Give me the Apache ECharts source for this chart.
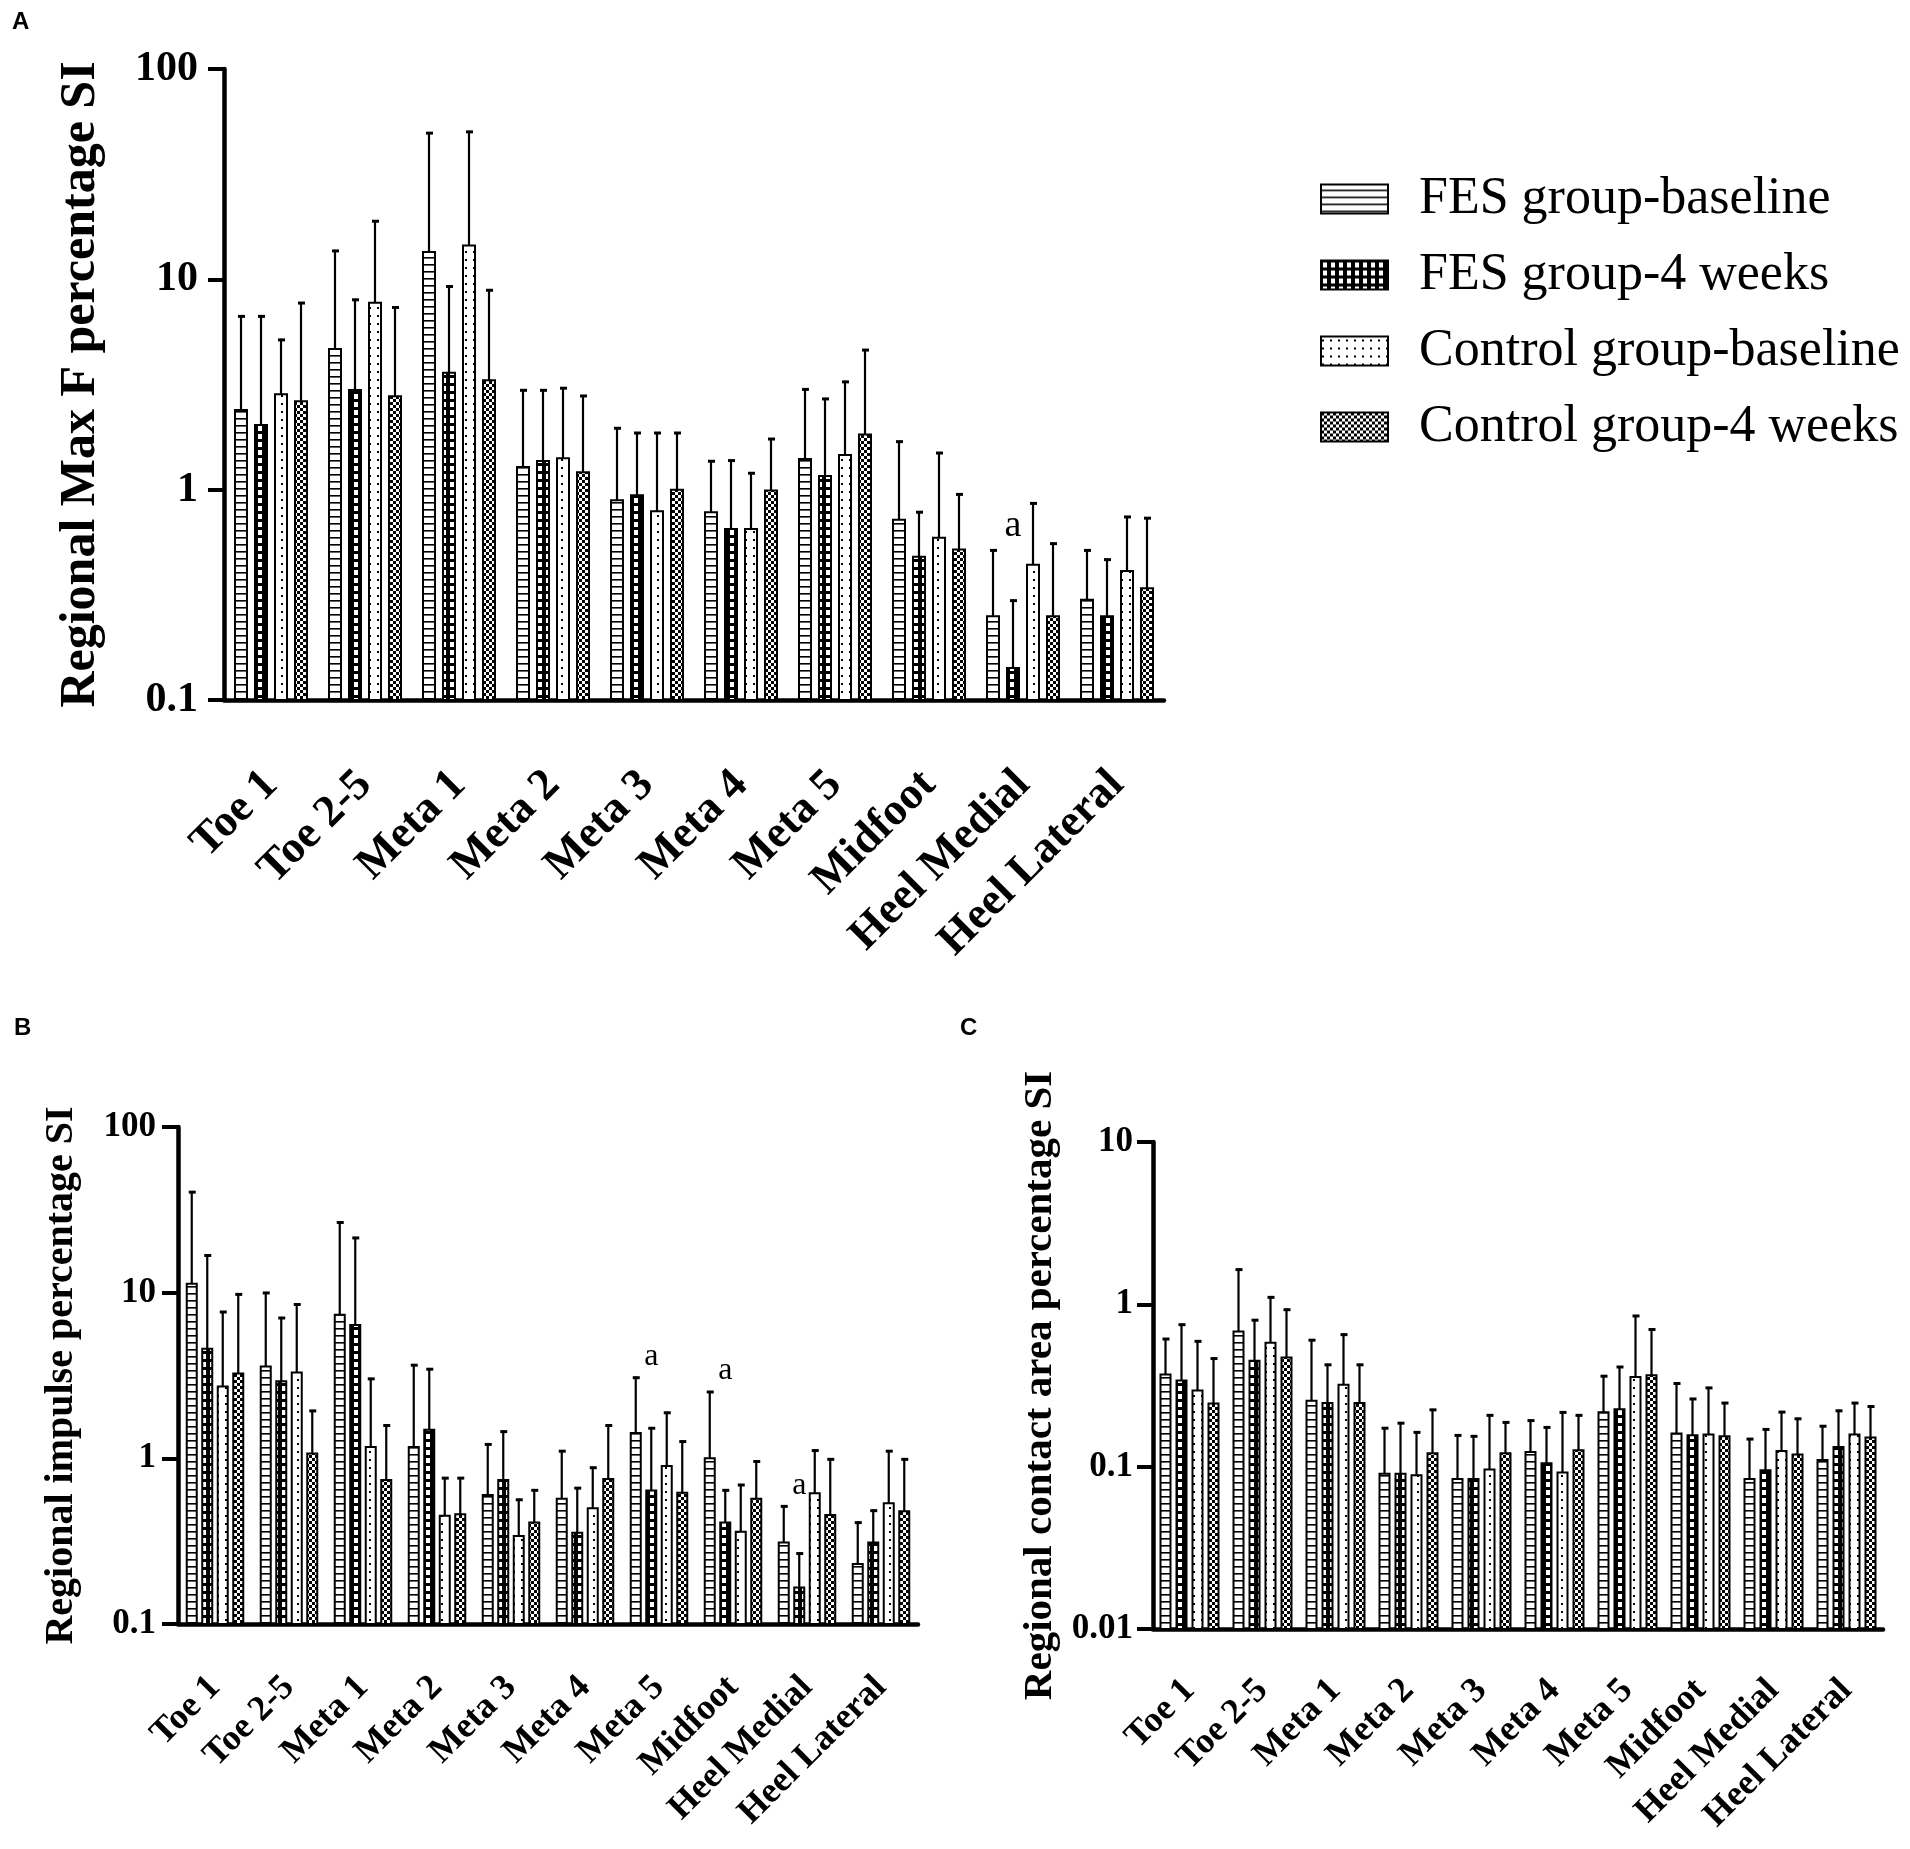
<!DOCTYPE html>
<html>
<head>
<meta charset="utf-8">
<script src="https://cdn.jsdelivr.net/npm/echarts@6/dist/echarts.min.js"></script>
<style>
html, body { margin: 0; padding: 0; background: #fff; }
#chart { width: 1910px; height: 1849px; }
</style>
</head>
<body>
<div id="chart"></div>
<script>
var regions = ['Toe 1', 'Toe 2-5', 'Meta 1', 'Meta 2', 'Meta 3', 'Meta 4', 'Meta 5', 'Midfoot', 'Heel Medial', 'Heel Lateral'];
var groups = ['FES group-baseline', 'FES group-4 weeks', 'Control group-baseline', 'Control group-4 weeks'];

// A - Regional Max F percentage SI (bar value, top of error bar)
var maxF_fesBase = [2.39, 4.66, 13.5, 1.28, 0.89, 0.78, 1.40, 0.72, 0.25, 0.30];
var maxF_fesBaseTop = [6.74, 13.8, 50.1, 3.0, 1.98, 1.38, 3.03, 1.71, 0.52, 0.52];
var maxF_fes4 = [2.03, 2.98, 3.6, 1.37, 0.94, 0.65, 1.16, 0.48, 0.142, 0.25];
var maxF_fes4Top = [6.74, 8.08, 9.35, 3.0, 1.88, 1.39, 2.73, 0.79, 0.30, 0.47];
var maxF_ctlBase = [2.84, 7.74, 14.5, 1.41, 0.79, 0.65, 1.46, 0.59, 0.44, 0.41];
var maxF_ctlBaseTop = [5.21, 19.1, 50.8, 3.07, 1.88, 1.21, 3.29, 1.51, 0.87, 0.75];
var maxF_ctl4 = [2.63, 2.78, 3.31, 1.21, 1.0, 0.99, 1.83, 0.52, 0.25, 0.34];
var maxF_ctl4Top = [7.8, 7.43, 8.97, 2.82, 1.88, 1.76, 4.66, 0.96, 0.56, 0.74];
var maxF_sig = [8];

// B - Regional impulse percentage SI
var imp_fesBase = [11.3, 3.58, 7.35, 1.17, 0.60, 0.57, 1.42, 1.0, 0.31, 0.23];
var imp_fesBaseTop = [41, 10.1, 26.9, 3.7, 1.23, 1.12, 3.11, 2.55, 0.52, 0.415];
var imp_fes4 = [4.58, 2.92, 6.38, 1.49, 0.74, 0.355, 0.64, 0.41, 0.166, 0.31];
var imp_fes4Top = [17, 7.13, 21.7, 3.5, 1.47, 0.67, 1.54, 0.65, 0.27, 0.49];
var imp_ctlBase = [2.71, 3.3, 1.17, 0.45, 0.34, 0.50, 0.90, 0.36, 0.615, 0.535];
var imp_ctlBaseTop = [7.75, 8.6, 3.06, 0.77, 0.57, 0.89, 1.91, 0.70, 1.13, 1.12];
var imp_ctl4 = [3.25, 1.07, 0.74, 0.46, 0.41, 0.75, 0.62, 0.57, 0.455, 0.48];
var imp_ctl4Top = [9.9, 1.96, 1.6, 0.77, 0.65, 1.6, 1.28, 0.97, 1.0, 1.0];
var imp_sig = [6, 7, 8];

// C - Regional contact area percentage SI
var area_fesBase = [0.37, 0.68, 0.255, 0.0905, 0.084, 0.123, 0.216, 0.16, 0.084, 0.11];
var area_fesBaseTop = [0.62, 1.66, 0.61, 0.175, 0.158, 0.195, 0.366, 0.33, 0.15, 0.18];
var area_fes4 = [0.34, 0.45, 0.247, 0.0905, 0.084, 0.105, 0.226, 0.156, 0.095, 0.132];
var area_fes4Top = [0.76, 0.81, 0.43, 0.188, 0.156, 0.177, 0.417, 0.265, 0.172, 0.224];
var area_ctlBase = [0.295, 0.58, 0.32, 0.0885, 0.096, 0.092, 0.357, 0.158, 0.125, 0.158];
var area_ctlBaseTop = [0.60, 1.12, 0.66, 0.165, 0.21, 0.219, 0.86, 0.31, 0.22, 0.25];
var area_ctl4 = [0.245, 0.47, 0.247, 0.121, 0.121, 0.126, 0.366, 0.154, 0.119, 0.151];
var area_ctl4Top = [0.47, 0.94, 0.43, 0.227, 0.19, 0.21, 0.71, 0.25, 0.20, 0.238];
var area_sig = [];

var SERIF = 'Liberation Serif';

// fill patterns, one per group
function pat(draw, w, h) {
    var c = document.createElement('canvas');
    c.width = w; c.height = h;
    var g = c.getContext('2d');
    g.fillStyle = '#fff';
    g.fillRect(0, 0, w, h);
    g.fillStyle = '#000';
    draw(g);
    return { image: c, repeat: 'repeat' };
}
var patterns = [
    pat(function (g) { g.fillRect(0, 5, 16, 1.6); }, 16, 7),
    pat(function (g) { g.fillRect(0, 0, 8, 8); g.fillStyle = '#fff'; g.fillRect(2, 2, 4, 5); }, 8, 8),
    pat(function (g) { g.fillRect(1, 3, 2, 2); }, 8, 8),
    pat(function (g) { g.fillRect(0, 0, 3, 3); g.fillRect(3, 3, 3, 3); }, 6, 6)
];

var panels = [
    { name: 'Regional Max F percentage SI', min: 0.1, max: 100, bw: 12, pitch: 20,
      vals: [maxF_fesBase, maxF_fes4, maxF_ctlBase, maxF_ctl4],
      tops: [maxF_fesBaseTop, maxF_fes4Top, maxF_ctlBaseTop, maxF_ctl4Top], sig: maxF_sig,
      grid: { left: 224, top: 69, width: 940, height: 631 },
      tickFont: 42, nameFont: 50, catFont: 45, catMargin: 78, nameGap: 118, labelMargin: 26, sigFont: 38 },
    { name: 'Regional impulse percentage SI', min: 0.1, max: 100, bw: 10, pitch: 15.5,
      vals: [imp_fesBase, imp_fes4, imp_ctlBase, imp_ctl4],
      tops: [imp_fesBaseTop, imp_fes4Top, imp_ctlBaseTop, imp_ctl4Top], sig: imp_sig,
      grid: { left: 178, top: 1127, width: 740, height: 497 },
      tickFont: 35, nameFont: 40, catFont: 36, catMargin: 58, nameGap: 96, labelMargin: 22, sigFont: 32 },
    { name: 'Regional contact area percentage SI', min: 0.01, max: 10, bw: 10, pitch: 16,
      vals: [area_fesBase, area_fes4, area_ctlBase, area_ctl4],
      tops: [area_fesBaseTop, area_fes4Top, area_ctlBaseTop, area_ctl4Top], sig: area_sig,
      grid: { left: 1153, top: 1142, width: 730, height: 487 },
      tickFont: 35, nameFont: 41, catFont: 36, catMargin: 56, nameGap: 92, labelMargin: 20, sigFont: 32 }
];

function barItem(p, s) {
    return function (params, api) {
        var i = api.value(0);
        var top = api.coord([i, api.value(1)]);
        var base = api.coord([i, p.min]);
        var x = top[0] + (s - 1.5) * p.pitch;
        return {
            type: 'rect',
            shape: { x: x - p.bw / 2, y: top[1], width: p.bw, height: base[1] - top[1] },
            style: { fill: patterns[s], stroke: '#000', lineWidth: 2 }
        };
    };
}

function errItem(p, s) {
    return function (params, api) {
        var i = api.value(0);
        var a = api.coord([i, api.value(1)]);
        var b = api.coord([i, api.value(2)]);
        var x = a[0] + (s - 1.5) * p.pitch;
        var st = { stroke: '#000', lineWidth: 2.2 };
        return {
            type: 'group',
            children: [
                { type: 'line', shape: { x1: x, y1: a[1], x2: x, y2: b[1] }, style: st },
                { type: 'line', shape: { x1: x - 3, y1: b[1] + 1, x2: x + 4, y2: b[1] + 1 }, style: { stroke: '#000', lineWidth: 3 } }
            ]
        };
    };
}

function sigItem(p) {
    return function (params, api) {
        var i = api.value(0);
        var c = api.coord([i, api.value(1)]);
        return {
            type: 'text',
            x: c[0] - 0.5 * p.pitch,
            y: c[1] - 4,
            style: { text: 'a', fill: '#000', font: p.sigFont + 'px "' + SERIF + '"', align: 'center', verticalAlign: 'bottom' }
        };
    };
}

var grids = [], xAxes = [], yAxes = [], series = [];
panels.forEach(function (p, k) {
    grids.push(p.grid);
    xAxes.push({
        type: 'category', gridIndex: k, data: regions,
        axisLine: { lineStyle: { color: '#000', width: 4.5 } },
        axisTick: { alignWithLabel: true, length: 15, lineStyle: { color: '#000', width: 4 } },
        axisLabel: { interval: 0, rotate: 45, margin: p.catMargin, color: '#000', fontFamily: SERIF, fontWeight: 'bold', fontSize: p.catFont }
    });
    yAxes.push({
        type: 'log', logBase: 10, gridIndex: k, min: p.min, max: p.max,
        name: p.name, nameLocation: 'middle', nameRotate: 90, nameGap: p.nameGap,
        nameTextStyle: { color: '#000', fontFamily: SERIF, fontWeight: 'bold', fontSize: p.nameFont },
        axisLine: { show: true, lineStyle: { color: '#000', width: 4.5 } },
        axisTick: { show: true, length: 16, lineStyle: { color: '#000', width: 4 } },
        minorTick: { show: false },
        splitLine: { show: false },
        axisLabel: {
            margin: p.labelMargin, color: '#000', fontFamily: SERIF, fontWeight: 'bold', fontSize: p.tickFont,
            formatter: function (v) { return v >= 1 ? String(Math.round(v)) : String(+v.toPrecision(1)); }
        }
    });
    for (var s = 0; s < 4; s++) {
        series.push({
            type: 'custom', name: groups[s], xAxisIndex: k, yAxisIndex: k,
            itemStyle: { color: patterns[s], borderColor: '#000', borderWidth: 2 },
            renderItem: barItem(p, s),
            data: p.vals[s].map(function (v, i) { return [i, v]; }),
            z: 2
        });
        series.push({
            type: 'custom', name: groups[s] + ' SD', xAxisIndex: k, yAxisIndex: k,
            renderItem: errItem(p, s),
            data: p.vals[s].map(function (v, i) { return [i, v, p.tops[s][i]]; }),
            z: 1
        });
    }
    if (p.sig.length) {
        series.push({
            type: 'custom', name: 'sig', xAxisIndex: k, yAxisIndex: k,
            renderItem: sigItem(p),
            data: p.sig.map(function (i) { return [i, p.tops[0][i]]; }),
            z: 3
        });
    }
});

var chart = echarts.init(document.getElementById('chart'));
chart.setOption({
    animation: false,
    backgroundColor: '#fff',
    grid: grids,
    xAxis: xAxes,
    yAxis: yAxes,
    legend: {
        data: groups, orient: 'vertical', left: 1315, top: 168,
        icon: 'rect', itemWidth: 67, itemHeight: 29, itemGap: 24,
        itemStyle: { borderColor: '#000', borderWidth: 2 },
        textStyle: { color: '#000', fontFamily: SERIF, fontSize: 52, lineHeight: 52, padding: [0, 0, 0, 26] }
    },
    graphic: [
        { type: 'text', left: 12, top: 10, style: { text: 'A', font: 'bold 24px "Liberation Sans"', fill: '#000' } },
        { type: 'text', left: 14, top: 1016, style: { text: 'B', font: 'bold 24px "Liberation Sans"', fill: '#000' } },
        { type: 'text', left: 960, top: 1016, style: { text: 'C', font: 'bold 24px "Liberation Sans"', fill: '#000' } }
    ],
    series: series
});
</script>
</body>
</html>
